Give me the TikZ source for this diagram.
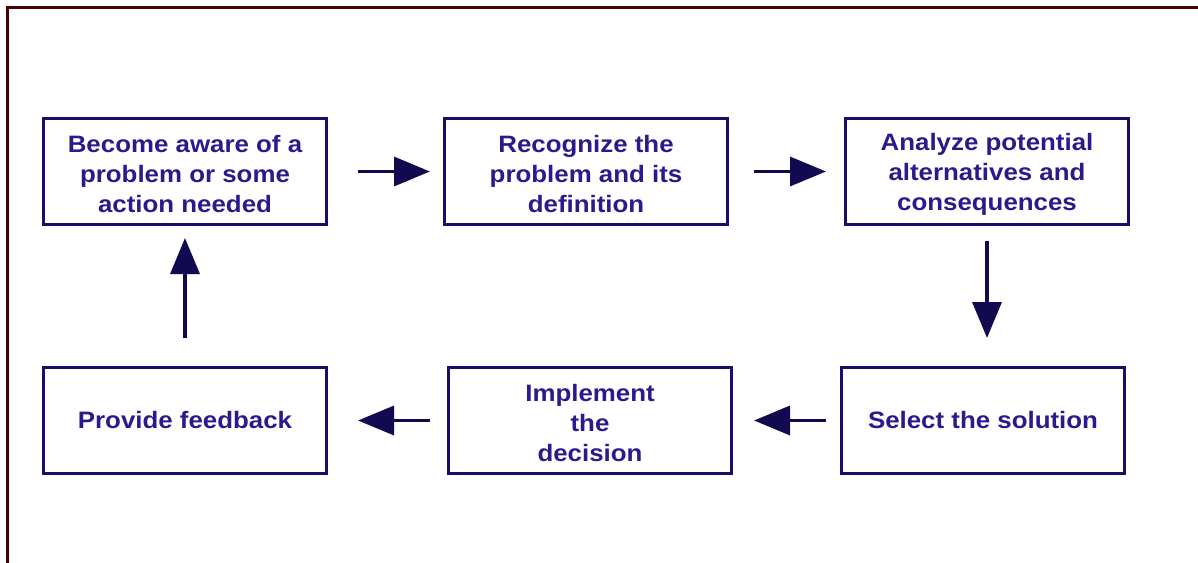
\documentclass[tikz,border=0pt]{standalone}
\usepackage{fontspec}
\setmainfont{Liberation Sans}[FakeStretch=1.09]
\usepackage{tikz}
\usetikzlibrary{arrows.meta}

\definecolor{stepink}{RGB}{42,26,140}
\definecolor{stepline}{RGB}{32,10,106}
\definecolor{arrowink}{RGB}{18,10,80}
\definecolor{framered}{RGB}{74,0,0}

\tikzset{
  stepbox/.style={draw=stepline, line width=2.25pt, minimum width=212.25pt, minimum height=79.5pt,
    inner sep=0pt, align=center, text=stepink,
    font=\fontsize{17.8}{22.5}\selectfont\bfseries},
  tallbox/.style={stepbox, text height=62pt},
  flowarrow/.style={draw=arrowink, line width=2.6pt, -{Triangle[length=27pt,width=21.75pt]}}
}

\begin{document}
\begin{tikzpicture}[x=0.75pt,y=0.75pt,yscale=-1,xscale=1]
\useasboundingbox (0,0) rectangle (1198,563);

%Frame lines
\draw [framered, line width=2.25pt] (7.5,563) -- (7.5,8) -- (1198,8) ;

%Step boxes, top row
\node [tallbox] (aware) at (185,171.5) {Become aware of a\\problem or some\\action needed};
\node [tallbox] (recog) at (586,171.5) {Recognize the\\problem and its\\definition};
\node [tallbox] (analyze) at (987,171.5) {Analyze potential\\alternatives and\\consequences};
%Step boxes, bottom row
\node [stepbox] (feedback) at (185,420.5) {Provide feedback};
\node [tallbox] (implement) at (590,420.5) {Implement\\the\\decision};
\node [stepbox] (select) at (983,420.5) {Select the solution};

%Arrows
\draw [flowarrow, shorten <=22.5pt, shorten >=9.75pt] (aware) -- (recog) ;
\draw [flowarrow, shorten <=18.75pt, shorten >=13.5pt] (recog) -- (analyze) ;
\draw [flowarrow, shorten <=11.25pt, shorten >=21pt] (analyze.south) -- (analyze.south |- select.north) ;
\draw [flowarrow, shorten <=10.5pt, shorten >=15.75pt] (select) -- (implement) ;
\draw [flowarrow, shorten <=12.75pt, shorten >=22.5pt] (implement) -- (feedback) ;
\draw [flowarrow, shorten <=21pt, shorten >=9pt] (feedback) -- (aware) ;

\end{tikzpicture}
\end{document}
